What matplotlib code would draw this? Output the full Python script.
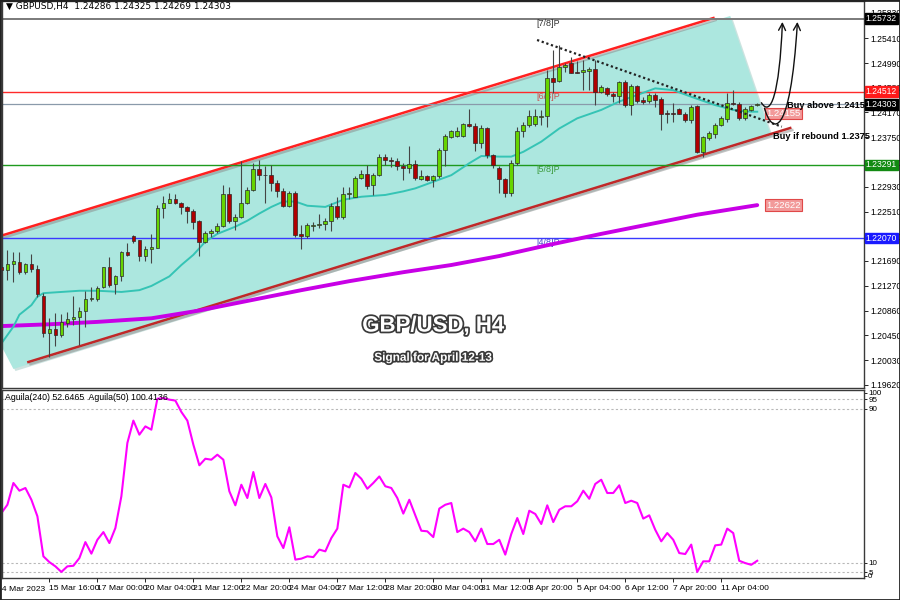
import numpy as np
import matplotlib
matplotlib.use('Agg')
import matplotlib.pyplot as plt
import matplotlib.patheffects as pe
from matplotlib.patches import Polygon, Rectangle, FancyArrowPatch
from matplotlib.path import Path
from matplotlib.transforms import blended_transform_factory

plt.rcParams['font.family'] = ['Liberation Sans', 'DejaVu Sans']

# %% GBPUSD H4 candles
opens = [1.2159, 1.2154, 1.2164, 1.2167, 1.2151, 1.2163, 1.2155, 1.2111, 1.2048, 1.2055,
         1.2045, 1.2065, 1.2071, 1.2075, 1.2086, 1.2105, 1.2106, 1.2125, 1.2158, 1.2130,
         1.2144, 1.2183, 1.2210, 1.2203, 1.2177, 1.2189, 1.2191, 1.2257, 1.2266, 1.2272,
         1.2266, 1.2259, 1.2253, 1.2235, 1.2201, 1.2215, 1.2218, 1.2227, 1.2280, 1.2236,
         1.2242, 1.2265, 1.2287, 1.2322, 1.2313, 1.2313, 1.2299, 1.2286, 1.2261, 1.2283,
         1.2213, 1.2210, 1.2227, 1.2228, 1.2231, 1.2236, 1.2261, 1.2242, 1.2281, 1.2276,
         1.2308, 1.2314, 1.2295, 1.2312, 1.2343, 1.2338, 1.2335, 1.2328, 1.2324, 1.2331,
         1.2306, 1.2310, 1.2304, 1.2310, 1.2354, 1.2376, 1.2378, 1.2378, 1.2398, 1.2394,
         1.2366, 1.2390, 1.2346, 1.2324, 1.2305, 1.2282, 1.2332, 1.2385, 1.2396, 1.2398,
         1.2410, 1.2411, 1.2474, 1.2469, 1.2492, 1.2499, 1.2485, 1.2484, 1.2486, 1.2489,
         1.2451, 1.2457, 1.2447, 1.2445, 1.2468, 1.2430, 1.2461, 1.2437, 1.2436, 1.2446,
         1.2440, 1.2416, 1.2416, 1.2423, 1.2415, 1.2404, 1.2427, 1.2351, 1.2374, 1.2381,
         1.2396, 1.2406, 1.2433, 1.2431, 1.2407, 1.2421, 1.24286]
highs = [1.2162, 1.2187, 1.2183, 1.2183, 1.2166, 1.2180, 1.2162, 1.2115, 1.2073, 1.2082,
         1.2081, 1.2084, 1.2111, 1.2092, 1.2119, 1.2126, 1.2127, 1.2159, 1.2176, 1.2145,
         1.2185, 1.2199, 1.2212, 1.2204, 1.2194, 1.2214, 1.2262, 1.2278, 1.2283, 1.2281,
         1.2268, 1.2261, 1.2255, 1.2237, 1.2218, 1.2222, 1.2232, 1.2296, 1.2293, 1.2248,
         1.2335, 1.2292, 1.2332, 1.2337, 1.2327, 1.2329, 1.2304, 1.2290, 1.2286, 1.2286,
         1.2229, 1.2232, 1.2234, 1.2248, 1.2240, 1.2265, 1.2276, 1.2293, 1.2293, 1.2311,
         1.2321, 1.2329, 1.2315, 1.2347, 1.2347, 1.2343, 1.2340, 1.2332, 1.2360, 1.2337,
         1.2321, 1.2312, 1.2312, 1.2357, 1.2381, 1.2388, 1.2393, 1.2399, 1.2422, 1.2399,
         1.2396, 1.2393, 1.2347, 1.2327, 1.2307, 1.2337, 1.2393, 1.2401, 1.2421, 1.2422,
         1.2421, 1.2488, 1.2521, 1.2529, 1.2499, 1.2510, 1.2502, 1.2504, 1.2493, 1.2504,
         1.2463, 1.2459, 1.2451, 1.2470, 1.2471, 1.2464, 1.2463, 1.2442, 1.2449, 1.2449,
         1.2442, 1.2421, 1.2432, 1.2425, 1.2418, 1.2429, 1.2429, 1.2377, 1.2385, 1.2399,
         1.2411, 1.2449, 1.2454, 1.2435, 1.2426, 1.2429, 1.24325]
lows = [1.2151, 1.2137, 1.2134, 1.2147, 1.2147, 1.2151, 1.2109, 1.2042, 1.2009, 1.2026,
        1.2042, 1.2059, 1.2062, 1.2028, 1.2059, 1.2102, 1.2102, 1.2123, 1.2126, 1.2114,
        1.2136, 1.2177, 1.2198, 1.2168, 1.2169, 1.2166, 1.2190, 1.2240, 1.2265, 1.2264,
        1.2248, 1.2232, 1.2222, 1.2177, 1.2198, 1.2208, 1.2215, 1.2226, 1.2232, 1.2221,
        1.2240, 1.2264, 1.2285, 1.2304, 1.2265, 1.2285, 1.2276, 1.2259, 1.2259, 1.2209,
        1.2188, 1.2207, 1.2219, 1.2223, 1.2221, 1.2219, 1.2238, 1.2238, 1.2273, 1.2275,
        1.2305, 1.2289, 1.2279, 1.2311, 1.2329, 1.2326, 1.2321, 1.2304, 1.2315, 1.2304,
        1.2304, 1.2303, 1.2293, 1.2308, 1.2327, 1.2374, 1.2376, 1.2376, 1.2393, 1.2353,
        1.2357, 1.2340, 1.2324, 1.2282, 1.2276, 1.2277, 1.2329, 1.2376, 1.2393, 1.2394,
        1.2395, 1.2393, 1.2449, 1.2468, 1.2485, 1.2482, 1.2482, 1.2454, 1.2454, 1.2429,
        1.2449, 1.2444, 1.2435, 1.2432, 1.2426, 1.2413, 1.2432, 1.2431, 1.2433, 1.2426,
        1.2388, 1.2399, 1.2401, 1.2414, 1.2401, 1.2399, 1.2349, 1.2343, 1.2371, 1.2374,
        1.2394, 1.2400, 1.2429, 1.2404, 1.2405, 1.2420, 1.24269]
closes = [1.2154, 1.2163, 1.2168, 1.2151, 1.2163, 1.2155, 1.2114, 1.2048, 1.2055, 1.2045,
          1.2066, 1.2072, 1.2075, 1.2085, 1.2105, 1.2107, 1.2124, 1.2158, 1.2129, 1.2143,
          1.2183, 1.2178, 1.2202, 1.2177, 1.2189, 1.2192, 1.2258, 1.2266, 1.2272, 1.2266,
          1.2259, 1.2252, 1.2234, 1.2201, 1.2215, 1.2218, 1.2227, 1.2280, 1.2236, 1.2242,
          1.2266, 1.2287, 1.2322, 1.2312, 1.2312, 1.2299, 1.2286, 1.2261, 1.2283, 1.2212,
          1.2211, 1.2228, 1.2229, 1.2231, 1.2236, 1.2261, 1.2242, 1.2281, 1.2283, 1.2308,
          1.2314, 1.2294, 1.2312, 1.2343, 1.2337, 1.2335, 1.2327, 1.2324, 1.2330, 1.2307,
          1.2311, 1.2304, 1.2310, 1.2354, 1.2377, 1.2386, 1.2386, 1.2398, 1.2394, 1.2366,
          1.2390, 1.2346, 1.2329, 1.2305, 1.2282, 1.2332, 1.2386, 1.2396, 1.2411, 1.2411,
          1.2411, 1.2474, 1.2468, 1.2492, 1.2496, 1.2483, 1.2483, 1.2487, 1.2489, 1.2451,
          1.2459, 1.2447, 1.2444, 1.2468, 1.2429, 1.2461, 1.2436, 1.2435, 1.2446, 1.2438,
          1.2415, 1.2414, 1.2415, 1.2415, 1.2404, 1.2426, 1.2351, 1.2375, 1.2382, 1.2396,
          1.2407, 1.2433, 1.2431, 1.2407, 1.2422, 1.2428, 1.24303]

# moving averages, read at a few bars
ma21_bars = [0, 2, 3, 5, 6, 7, 10, 13, 16, 20, 23, 25, 28, 30, 32, 34, 36, 39, 41, 43,
             45, 47, 49, 51, 54, 57, 60, 64, 67, 69, 72, 75, 78, 80, 83, 85, 87, 90, 93,
             96, 100, 103, 106, 109, 112, 115, 119, 122, 125, 126]
ma21_vals = [1.2031, 1.2059, 1.2079, 1.2095, 1.2109, 1.2115, 1.2117, 1.2119, 1.2119, 1.2117,
             1.2120, 1.2127, 1.2143, 1.2162, 1.2179, 1.2201, 1.2214, 1.2226, 1.2236, 1.2248,
             1.2259, 1.2268, 1.2268, 1.2261, 1.2259, 1.2271, 1.2276, 1.2279, 1.2285, 1.2290,
             1.2301, 1.2312, 1.2332, 1.2344, 1.2343, 1.2343, 1.2351, 1.2368, 1.2390, 1.2407,
             1.2421, 1.2435, 1.2446, 1.2457, 1.2454, 1.2443, 1.2429, 1.2421, 1.2418, 1.2418]
ma200_bars = [0, 8, 16, 25, 33, 43, 50, 58, 67, 75, 83, 91, 100, 108, 116, 126]
ma200_vals = [1.2060, 1.2063, 1.2067, 1.2073, 1.2086, 1.2106, 1.2120, 1.2135, 1.2150, 1.2162,
              1.2177, 1.2195, 1.2214, 1.2230, 1.2246, 1.2262]

# Aguila(50) oscillator, one value per bar
aguila = [35.8, 40.1, 51.4, 47.4, 48.8, 42.7, 34.1, 13.3, 10.3, 8.1,
          5.2, 8.1, 8.4, 12.4, 20.7, 14.7, 21.9, 25.9, 20.2, 28.0,
          44.5, 72.2, 83.8, 76.5, 80.8, 79.1, 95.2, 95.5, 94.7, 94.2,
          88.3, 83.8, 71.3, 60.6, 64.0, 63.5, 66.1, 63.5, 47.1, 39.8,
          50.5, 43.6, 57.1, 43.6, 50.9, 43.9, 23.7, 17.6, 28.4, 11.6,
          12.1, 13.3, 12.9, 16.8, 15.9, 22.8, 27.7, 50.5, 49.1, 56.6,
          53.6, 48.4, 51.4, 54.8, 49.7, 48.8, 43.6, 35.5, 42.7, 34.6,
          26.6, 26.3, 23.3, 38.1, 40.1, 41.0, 25.9, 27.7, 25.9, 21.1,
          27.7, 19.7, 19.7, 21.9, 14.2, 24.9, 33.2, 24.9, 37.0, 35.3,
          30.1, 39.8, 31.1, 37.5, 39.3, 39.3, 41.9, 47.4, 43.2, 50.9,
          53.1, 46.2, 46.2, 50.2, 41.0, 42.2, 41.0, 32.9, 34.6, 27.1,
          21.1, 25.4, 21.9, 15.0, 14.5, 19.4, 5.2, 10.7, 10.7, 19.0,
          19.4, 27.7, 25.4, 11.0, 9.8, 8.9, 11.0]

# horizontal levels (Murrey lines and current price)
level_prices = [1.25732, 1.24512, 1.23291, 1.22070]
level_colors = ['#7a7a7a', '#ff2a2a', '#1e9a1e', '#3a3aff']
level_names = ['[7/8]P', '[6/8]P', '[5/8]P', '[4/8]P']
level_name_colors = ['#333333', '#c85050', '#3c9a3c', '#4646d0']
last_price = 1.24303

# analyst drawings: channel, trendline, arrows (bar, price)
chan_upper = [(-1, 1.2208), (118.7, 1.25745)]
chan_lower = [(4.5, 1.2000), (131.5, 1.23908)]
chan_fill = [(-8.3, 1.21858), (121.5, 1.25779), (128.2, 1.23808), (2, 1.19884)]
trend_pts = [(89.3, 1.25378), (130.1, 1.23930)]
arrow1 = [(126.7, 1.2433), (128.2, 1.2408), (129.7, 1.2446), (130.2, 1.2568)]
arrow2 = [(127.2, 1.2424), (128.5, 1.2379), (131.5, 1.2371), (132.7, 1.2568)]

price_ticks = [1.19620, 1.20030, 1.20450, 1.20860, 1.21270, 1.21690, 1.22100, 1.22510,
               1.22930, 1.23340, 1.23750, 1.24170, 1.24580, 1.24990, 1.25410, 1.25830]
time_ticks = [8, 16, 24, 32, 40, 48, 56, 64, 72, 80, 88, 96, 104, 112, 120]
time_labels = ['15 Mar 16:00', '17 Mar 00:00', '20 Mar 04:00', '21 Mar 12:00',
               '22 Mar 20:00', '24 Mar 04:00', '27 Mar 12:00', '28 Mar 20:00',
               '30 Mar 04:00', '31 Mar 12:00', '3 Apr 20:00', '5 Apr 04:00',
               '6 Apr 12:00', '7 Apr 20:00', '11 Apr 04:00']

# %% figure
fig = plt.figure(figsize=(9, 6), dpi=100)
ax1 = fig.add_axes([2 / 900, 1 - 388 / 600, 862 / 900, 387 / 600])
ax2 = fig.add_axes([2 / 900, 1 - 578 / 600, 862 / 900, 188 / 600])
xlim = (0.1, 143.8)

# channel fill + lines
ax1.add_patch(Polygon(chan_fill, closed=True, fc='#ace7df', ec='none', zorder=0.5,
                      path_effects=[pe.SimplePatchShadow(offset=(1.5, -1.5), shadow_rgbFace='#9cc9c3', alpha=0.5),
                                    pe.Normal()]))
shadow = [pe.SimpleLineShadow(offset=(1.5, -1.5), shadow_color='#888888', alpha=0.5), pe.Normal()]
ax1.plot(*zip(*chan_upper), color='#ff2020', lw=1.8, zorder=1, path_effects=shadow)
ax1.plot(*zip(*chan_lower), color='#c02828', lw=1.8, zorder=1, path_effects=shadow)

# horizontal levels
for p, c, name, nc in zip(level_prices, level_colors, level_names, level_name_colors):
    ax1.axhline(p, color=c, lw=1.4 if p == level_prices[0] else 1.0, zorder=1.2)
    ax1.text(89.2, p - 0.0008, name, color=nc, fontsize=6.5, va='center', ha='left', zorder=1.3)
ax1.axhline(last_price, color='#8a9aaa', lw=0.9, zorder=1.2)

# moving averages
ax1.plot(ma200_bars, ma200_vals, color='#c800e6', lw=2.8, zorder=1.5, solid_capstyle='round')
ax1.plot(ma21_bars, ma21_vals, color='#35c4b5', lw=1.4, zorder=1.6)

# candles
o = np.array(opens); h = np.array(highs); l = np.array(lows); c = np.array(closes)
x = np.arange(len(o))
up = c >= o
ax1.vlines(x, l, h, color='#444444', lw=0.8, zorder=2)
body_lo = np.minimum(o, c)
body_h = np.maximum(np.abs(c - o), 0.00005)
ax1.bar(x[up], body_h[up], bottom=body_lo[up], width=0.62, color='#66d400',
        edgecolor='#2a2a2a', lw=0.5, zorder=3)
ax1.bar(x[~up], body_h[~up], bottom=body_lo[~up], width=0.62, color='#b00000',
        edgecolor='#2a2a2a', lw=0.5, zorder=3)

# dotted trendline and arrows
ax1.plot(*zip(*trend_pts), color='#222222', lw=1.6, ls=(0, (1, 1.2)), zorder=4)
codes = [Path.MOVETO, Path.CURVE4, Path.CURVE4, Path.CURVE4]
for pts in (arrow1, arrow2):
    ax1.add_patch(FancyArrowPatch(path=Path(pts, codes), arrowstyle='->,head_length=0.5,head_width=0.25',
                                  mutation_scale=10, lw=1.0, color='#111111', zorder=5))

# price tags in plot
tag = dict(boxstyle='square,pad=0.12', fc='#f29a9a', ec='#e04848', lw=0.8)
ax1.text(127.5, 1.24155, '1.24155', fontsize=6.8, color='white', va='center', ha='left', bbox=tag, zorder=4.5)
ax1.text(127.5, 1.22622, '1.22622', fontsize=6.8, color='white', va='center', ha='left', bbox=tag, zorder=4.5)

ax1.text(131.0, 1.2428, 'Buy above 1.2415', fontsize=6.7, fontweight='bold',
         va='center', ha='left', zorder=6)
ax1.text(128.6, 1.23763, 'Buy if rebound 1.2375', fontsize=6.7, fontweight='bold',
         va='center', ha='left', zorder=6)

# title text with dark outline
outline = [pe.withStroke(linewidth=2.5, foreground='#3a3a3a')]
ax1.text(72, 1.2060, 'GBP/USD, H4', fontsize=16, fontweight='bold',
         color='white', ha='center', va='center', path_effects=outline, zorder=6)
ax1.text(72, 1.2007, 'Signal for April 12-13', fontsize=8.5, fontweight='bold',
         color='white', ha='center', va='center', path_effects=outline, zorder=6)

ax1.set_xlim(*xlim)
ax1.set_ylim(1.19566, 1.26029)
ax1.yaxis.tick_right()
ax1.set_yticks(price_ticks)
ax1.set_yticklabels(['%.5f' % t for t in price_ticks])
ax1.tick_params(axis='y', labelsize=6.2, length=3, pad=1.5, width=0.6)
ax1.set_xticks([])

# right axis tags
tr = blended_transform_factory(ax1.transAxes, ax1.transData)
tags = [(1.25732, 'black'), (1.24512, '#ff1a1a'), (last_price, 'black'), (1.23291, '#128a12'), (1.22070, '#1a1aff')]
for p, col in tags:
    ax1.text(1.002, p, '%.5f' % p, transform=tr, fontsize=6.2, color='white', va='center', ha='left',
             clip_on=False, zorder=10, bbox=dict(boxstyle='square,pad=0.1', fc=col, ec=col))

fig.text(6 / 900, 1 - 6 / 600, '\u25bc GBPUSD,H4  1.24286 1.24325 1.24269 1.24303', fontsize=6.5,
         va='center', ha='left', family=['DejaVu Sans'])

# %% oscillator pane
for lv in (95, 90, 10, 5):
    ax2.axhline(lv, color='#b8b8b8', lw=0.8, ls=(0, (2, 2)))
ax2.plot(np.arange(len(aguila)), aguila, color='#ff00ff', lw=1.5)
ax2.set_xlim(*xlim)
ax2.set_ylim(2.05, 99.7)
ax2.yaxis.tick_right()
ax2.set_yticks([3.1, 5.1, 10, 90, 95, 98.3])
ax2.set_yticklabels(['0', '5', '10', '90', '95', '100'])
ax2.tick_params(axis='y', labelsize=5.8, length=2, pad=1, width=0.6)
ax2.set_xticks(time_ticks)
ax2.set_xticklabels(time_labels, ha='left')
ax2.tick_params(axis='x', labelsize=6.1, length=3, pad=2, width=0.6)
ax2.text(-0.7, -0.045, '14 Mar 2023', transform=blended_transform_factory(ax2.transData, ax2.transAxes),
         fontsize=6.1, ha='left', va='top', clip_on=False)
ax2.text(0.004, 0.985, 'Aguila(240) 52.6465  Aguila(50) 100.4136', transform=ax2.transAxes,
         fontsize=6.3, ha='left', va='top')

for ax in (ax1, ax2):
    for s in ax.spines.values():
        s.set_color('#3a3a3a')
        s.set_linewidth(1.0)

fig.patches.append(Rectangle((0, 0), 1, 1, transform=fig.transFigure, fill=False,
                             ec='#222222', lw=2.0))

fig.savefig('out.png', dpi=100)
